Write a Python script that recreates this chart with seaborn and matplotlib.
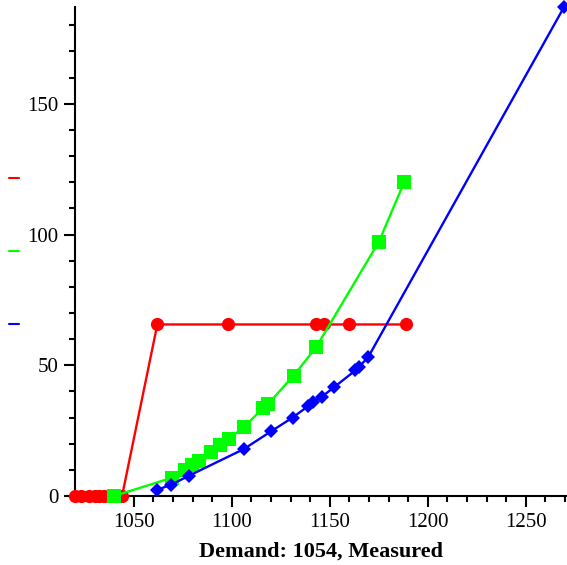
import matplotlib
matplotlib.use("Agg")
import matplotlib.pyplot as plt
from matplotlib.lines import Line2D
from matplotlib.ticker import MultipleLocator
import seaborn as sns
import pandas as pd

red_x = [1020, 1023, 1027, 1030, 1032, 1035, 1044, 1062, 1098, 1143, 1147, 1160, 1189]
red_y = [0, 0, 0, 0, 0, 0, 0, 65.6, 65.6, 65.6, 65.6, 65.6, 65.6]

green_x = [1040, 1069.5, 1076, 1079.5, 1083.5, 1089.5, 1094, 1098.5, 1106, 1116, 1118.5, 1131.5, 1143, 1175, 1188]
green_y = [0, 7, 10, 12, 13.3, 17, 19.6, 21.8, 26.3, 33.6, 35.2, 46, 56.9, 97.2, 120.1]

blue_x = [1062, 1069, 1078, 1106, 1120, 1131, 1139, 1141.5, 1146, 1152, 1163, 1165, 1169.5, 1269.5]
blue_y = [2.4, 4.3, 7.7, 17.9, 24.7, 30, 34.4, 36, 38, 41.5, 48, 49.5, 53, 187]

series_names = ["red", "green", "blue"]
colors = {"red": "#ff0000", "green": "#00ff00", "blue": "#0000ff"}
markers = {"red": "o", "green": "s", "blue": "D"}
msizes = {"red": 9.5, "green": 9.5, "blue": 7.5}

sns.set_style("ticks")
plt.rcParams["font.family"] = ["Liberation Serif", "DejaVu Serif"]
plt.rcParams["text.color"] = "black"
plt.rcParams["axes.labelcolor"] = "black"

fig = plt.figure(figsize=(5.67, 5.65), dpi=100)
ax = fig.add_axes([75 / 567, 69 / 565, 492 / 567, 489 / 565])

xs = {"red": red_x, "green": green_x, "blue": blue_x}
ys = {"red": red_y, "green": green_y, "blue": blue_y}
for name in series_names:
    df = pd.DataFrame({"x": xs[name], "y": ys[name]})
    sns.lineplot(data=df, x="x", y="y", ax=ax, color=colors[name],
                 marker=markers[name], markersize=msizes[name],
                 markeredgewidth=0, linewidth=1.7, estimator=None,
                 sort=False, clip_on=False, zorder=3)

ax.set_xlim(1020, 1271)
ax.set_ylim(0, 187)
ax.xaxis.set_major_locator(MultipleLocator(50))
ax.xaxis.set_minor_locator(MultipleLocator(10))
ax.yaxis.set_major_locator(MultipleLocator(50))
ax.yaxis.set_minor_locator(MultipleLocator(10))
ax.tick_params(which="major", length=8, width=1.5, labelsize=15, pad=4, color="black", labelcolor="black")
ax.tick_params(which="minor", length=4, width=1.5, color="black")
for s in ["top", "right"]:
    ax.spines[s].set_visible(False)
for s in ["left", "bottom"]:
    ax.spines[s].set_linewidth(1.5)
    ax.spines[s].set_color("black")
ax.set_ylabel("")
ax.set_xlabel("Demand: 1054, Measured", fontsize=16, fontweight="bold", labelpad=7, color="black")

# legend keys (no labels) at left
for name, ypix in zip(series_names, [178, 251, 324]):
    yf = 1 - ypix / 565
    fig.add_artist(Line2D([9 / 567, 19 / 567], [yf, yf], color=colors[name],
                          linewidth=1.5, transform=fig.transFigure))

fig.savefig("out.png", dpi=100)
